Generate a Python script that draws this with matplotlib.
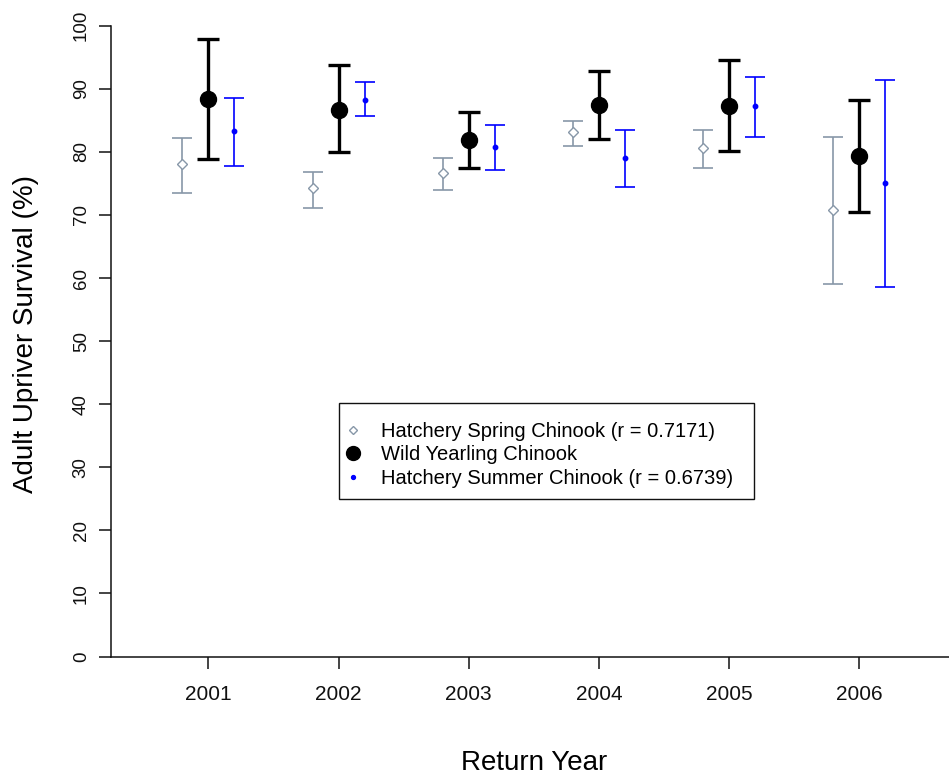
import matplotlib
matplotlib.use("Agg")
import matplotlib.pyplot as plt
from matplotlib.lines import Line2D
from matplotlib.patches import Rectangle
import numpy as np

plt.rcParams['font.family'] = ['Liberation Sans', 'DejaVu Sans']

# Return years
years = [2001, 2002, 2003, 2004, 2005, 2006]

# Hatchery spring Chinook: estimate and interval bounds (%)
spring_est = [78.0, 74.2, 76.6, 83.1, 80.6, 70.8]
spring_lo = [73.4, 71.1, 73.9, 81.0, 77.5, 59.1]
spring_hi = [82.2, 76.8, 79.0, 84.9, 83.4, 82.4]

# Wild yearling Chinook
wild_est = [88.4, 86.7, 81.9, 87.5, 87.3, 79.3]
wild_lo = [78.9, 79.9, 77.4, 82.1, 80.1, 70.4]
wild_hi = [97.9, 93.7, 86.3, 92.8, 94.5, 88.2]

# Hatchery summer Chinook
summer_est = [83.3, 88.3, 80.7, 79.1, 87.3, 75.0]
summer_lo = [77.7, 85.7, 77.2, 74.5, 82.4, 58.5]
summer_hi = [88.5, 91.0, 84.2, 83.4, 91.9, 91.4]

labels = ["Hatchery Spring Chinook (r = 0.7171)",
          "Wild Yearling Chinook",
          "Hatchery Summer Chinook (r = 0.6739)"]

GRAY = "#8797a8"
BLUE = "#0000ff"

W, H = 949, 780
fig = plt.figure(figsize=(W / 100, H / 100), dpi=100)
ax = fig.add_axes([110.8 / W, 123.5 / H, (957 - 110.8) / W, (754.3 - 123.5) / H])

x = np.array(years, dtype=float)


def err(est, lo, hi):
    est, lo, hi = map(np.asarray, (est, lo, hi))
    return [est - lo, hi - est]


ax.errorbar(x - 0.2, spring_est, yerr=err(spring_est, spring_lo, spring_hi),
            fmt='none', ecolor=GRAY, elinewidth=1.2, capsize=7.5, capthick=1.2)
ax.errorbar(x, wild_est, yerr=err(wild_est, wild_lo, wild_hi),
            fmt='none', ecolor='black', elinewidth=2.4, capsize=8.2, capthick=2.4)
ax.errorbar(x + 0.2, summer_est, yerr=err(summer_est, summer_lo, summer_hi),
            fmt='none', ecolor=BLUE, elinewidth=1.2, capsize=7.5, capthick=1.2)

ax.plot(x - 0.2, spring_est, ls='none', marker='D', ms=5.2, mfc='white',
        mec=GRAY, mew=1.0, zorder=3)
ax.plot(x, wild_est, ls='none', marker='o', ms=11.5, mfc='black',
        mec='black', zorder=3)
ax.plot(x + 0.2, summer_est, ls='none', marker='o', ms=3.2, mfc=BLUE,
        mec=BLUE, zorder=3)

ax.set_xlim(2000.25, 2006.75)
ax.set_ylim(0, 100)
ax.set_xticks(years)
ax.set_xticklabels([str(y) for y in years])
ax.set_yticks(np.arange(0, 101, 10))

for side in ('top', 'right'):
    ax.spines[side].set_visible(False)
for side in ('left', 'bottom'):
    ax.spines[side].set_linewidth(1.1)
    ax.spines[side].set_color('#111111')

ax.tick_params(axis='x', length=8.6, width=1.1, pad=12, labelsize=15,
               colors='#111111')
ax.tick_params(axis='y', length=8.6, width=1.1, pad=6.5, labelsize=13.5,
               colors='#111111', labelrotation=90)
for t in ax.get_yticklabels():
    t.set_va('center')

ax.set_xlabel("Return Year", fontsize=20)
ax.xaxis.set_label_coords(0.5, -0.148)
ax.set_ylabel("Adult Upriver Survival (%)", fontsize=20)
ax.yaxis.set_label_coords(-0.0848, 0.511)

handles = [
    Line2D([], [], ls='none', marker='D', ms=4.0, mfc='white', mec=GRAY, mew=1.0),
    Line2D([], [], ls='none', marker='o', ms=10, mfc='black', mec='black'),
    Line2D([], [], ls='none', marker='o', ms=2.8, mfc=BLUE, mec=BLUE),
]
fig.legend(handles, labels, loc='upper left',
           bbox_to_anchor=(344.7 / W, (H - 422) / H),
           frameon=False, borderpad=0, borderaxespad=0, fontsize=14.5,
           handlelength=0.8, handletextpad=1.0, labelspacing=0.22)

fig.patches.append(Rectangle((339 / W, (H - 499) / H), 415 / W, 96 / H,
                             transform=fig.transFigure, fill=False,
                             edgecolor='#111111', linewidth=1.0))

fig.savefig("out.png", dpi=100)
